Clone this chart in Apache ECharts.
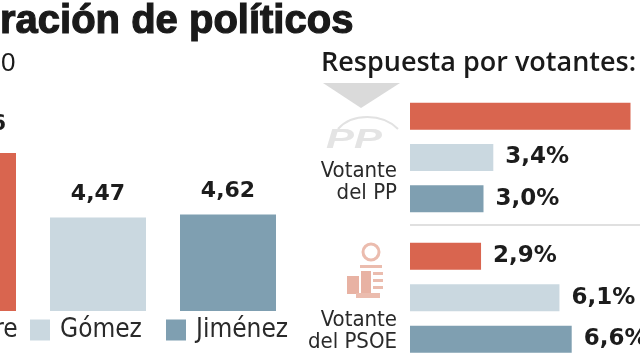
<!DOCTYPE html>
<html>
<head>
<meta charset="utf-8">
<script src="https://cdn.jsdelivr.net/npm/echarts@6/dist/echarts.min.js"></script>
<style>html,body{margin:0;padding:0;background:#fff}#c{width:640px;height:360px}</style>
</head>
<body>
<div id="c"></div>
<script>
// ---- data ----
const candidates = ['Aguirre', 'Gómez', 'Jiménez'];
const notaMedia = [7.56, 4.47, 4.62];
const votantePP = [9.0, 3.4, 3.0];
const votantePSOE = [2.9, 6.1, 6.6];
const groupLabels = ['Votante\ndel PP', 'Votante\ndel PSOE'];
const titleText = 'ración de políticos';
const subtitleText = '0';
const rightTitle = 'Respuesta por votantes:';

const colors = ['#d9654f', '#cad8e0', '#7f9fb1'];
const NARROW = '"Liberation Sans Narrow", "DejaVu Sans Condensed", "Arial Narrow", sans-serif';
const BOLDNUM = '"DejaVu Sans", sans-serif';

const chart = echarts.init(document.getElementById('c'), null, {renderer: 'canvas'});

const comma = (v, d) => v.toFixed(d).replace('.', ',');

// left chart: candidate index on a value x axis so the first bar can be cut by the frame
const leftSeries = candidates.map((name, i) => ({
  name: name,
  type: 'bar',
  xAxisIndex: 0, yAxisIndex: 0,
  barWidth: 96,
  barGap: '-100%',
  clip: true,
  itemStyle: {color: colors[i]},
  data: [[i, notaMedia[i]]],
  label: {
    show: true, position: 'top', distance: 12,
    offset: i === 0 ? [11, -6] : [0, 0],
    formatter: p => comma(p.value[1], 2),
    fontFamily: BOLDNUM, fontWeight: 'bold', fontSize: 22, color: '#1c1c1c'
  }
}));

function groupSeries(values, idx) {
  return {
    type: 'bar',
    xAxisIndex: idx, yAxisIndex: idx,
    barWidth: 27,
    data: values.map((v, j) => ({value: v, itemStyle: {color: colors[j]}})),
    label: {
      show: true, position: 'right', distance: 12,
      formatter: p => comma(p.value, 1) + '%',
      fontFamily: BOLDNUM, fontWeight: 'bold', fontSize: 23, color: '#1c1c1c'
    }
  };
}

const hiddenVal = (min, max) => ({type: 'value', min: min, max: max, show: false, splitLine: {show: false}});
const hiddenCat = (inv) => ({type: 'category', data: candidates, inverse: inv, show: false});

const legendBase = {
  icon: 'rect', itemWidth: 20, itemHeight: 21, top: 317, padding: 0,
  selectedMode: false,
  textStyle: {fontFamily: NARROW, fontSize: 26, color: '#2a2a2a', padding: [0, 0, 0, 5]}
};

chart.setOption({
  animation: false,
  backgroundColor: '#ffffff',
  title: [
    {text: titleText, left: 0, top: 2, padding: 0,
     textStyle: {fontFamily: '"Liberation Sans", Arial, sans-serif', fontWeight: 900, fontSize: 40, color: '#1a1a1a',
                 textBorderColor: '#1a1a1a', textBorderWidth: 1.2}},
    {text: rightTitle, left: 321, top: 50, padding: 0,
     textStyle: {fontFamily: '"Open Sans", sans-serif', fontWeight: 600, fontSize: 27, color: '#1a1a1a'}}
  ],
  legend: [
    Object.assign({}, legendBase, {data: ['Aguirre'], left: -97}),
    Object.assign({}, legendBase, {data: ['Gómez'], left: 30}),
    Object.assign({}, legendBase, {data: ['Jiménez'], left: 166})
  ],
  grid: [
    {left: 0, width: 292, top: 102, height: 209},
    {left: 410, width: 230, top: 95.5, height: 124},
    {left: 410, width: 230, top: 235.5, height: 124.5}
  ],
  xAxis: [
    Object.assign(hiddenVal(1 - 98 / 130, 1 - 98 / 130 + 292 / 130), {gridIndex: 0}),
    Object.assign(hiddenVal(0, 230 / 24.5), {gridIndex: 1}),
    Object.assign(hiddenVal(0, 230 / 24.5), {gridIndex: 2})
  ],
  yAxis: [
    Object.assign(hiddenVal(0, 10), {gridIndex: 0}),
    Object.assign(hiddenCat(true), {gridIndex: 1}),
    Object.assign(hiddenCat(true), {gridIndex: 2})
  ],
  graphic: [
    {type: 'text', x: 1, y: 51, style: {text: subtitleText, font: '26px "Liberation Sans", Arial, sans-serif', fill: '#1a1a1a'}, silent: true},
    // arrow
    {type: 'polygon', shape: {points: [[323, 83], [400, 83], [361, 108]]}, style: {fill: '#dadada'}, silent: true},
    // PP logo
    {type: 'bezierCurve', shape: {x1: 338, y1: 129, x2: 398, y2: 129, cpx1: 352, cpy1: 113, cpx2: 382, cpy2: 113},
     style: {stroke: '#e2e2e2', lineWidth: 2, fill: null}, silent: true},
    {type: 'text', x: 326, y: 127, scaleX: 1.55, style: {text: 'PP', font: 'italic bold 27px "Liberation Sans", sans-serif', fill: '#e4e4e4'}, silent: true},
    // PSOE logo (rose in fist)
    {type: 'circle', shape: {cx: 371, cy: 252, r: 8}, style: {stroke: '#ebbcae', lineWidth: 3, fill: null}, silent: true},
    {type: 'rect', shape: {x: 360, y: 265, width: 22, height: 3}, style: {fill: '#ebbcae'}, silent: true},
    {type: 'rect', shape: {x: 361, y: 271, width: 10, height: 22}, style: {fill: '#e8b2a3'}, silent: true},
    {type: 'rect', shape: {x: 373, y: 272, width: 10, height: 3}, style: {fill: '#ebbcae'}, silent: true},
    {type: 'rect', shape: {x: 373, y: 279, width: 10, height: 3}, style: {fill: '#ebbcae'}, silent: true},
    {type: 'rect', shape: {x: 373, y: 286, width: 10, height: 3}, style: {fill: '#ebbcae'}, silent: true},
    {type: 'rect', shape: {x: 347, y: 276, width: 12, height: 18}, style: {fill: '#e8b2a3'}, silent: true},
    {type: 'rect', shape: {x: 356, y: 293, width: 24, height: 5}, style: {fill: '#ebbcae'}, silent: true},
    // separator
    {type: 'line', shape: {x1: 410, y1: 225, x2: 640, y2: 225}, style: {stroke: '#d6d6d6', lineWidth: 1.5}, silent: true},
    // group labels
    {type: 'text', x: 397, y: 160, style: {text: groupLabels[0], align: 'right', font: '22px ' + NARROW, lineHeight: 22, fill: '#2a2a2a'}, silent: true},
    {type: 'text', x: 397, y: 309, style: {text: groupLabels[1], align: 'right', font: '22px ' + NARROW, lineHeight: 22, fill: '#2a2a2a'}, silent: true}
  ],
  series: leftSeries.concat([groupSeries(votantePP, 1), groupSeries(votantePSOE, 2)])
});
</script>
</body>
</html>
